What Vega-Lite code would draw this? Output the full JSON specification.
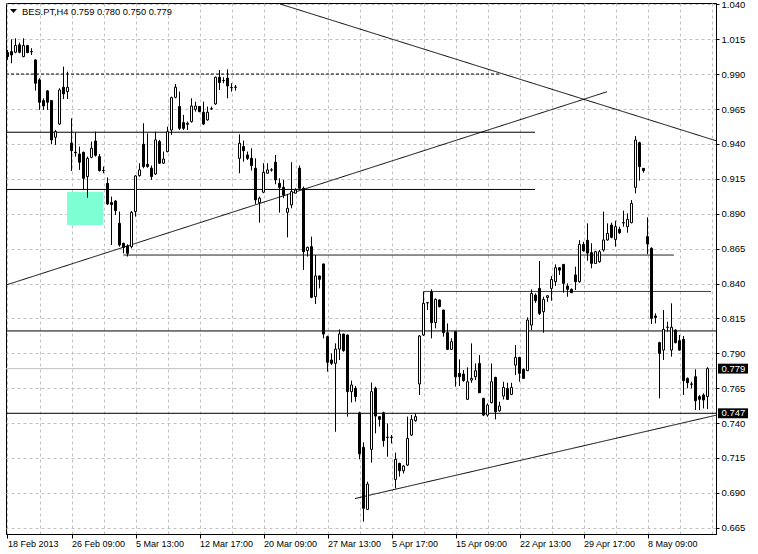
{
  "$schema": "https://vega.github.io/schema/vega-lite/v6.json",
  "width": 710,
  "height": 531,
  "autosize": {"type": "none"},
  "padding": {"left": 6, "top": 3, "right": 42, "bottom": 20},
  "background": "white",
  "config": {
    "view": {"stroke": "black", "strokeWidth": 1},
    "axis": {
      "labelFont": "Liberation Sans",
      "labelColor": "black",
      "domainColor": "black",
      "tickColor": "black",
      "grid": true,
      "gridColor": "#c0c0c0",
      "gridDash": [3, 3],
      "gridWidth": 1,
      "labelOverlap": false,
      "labelBound": false,
      "labelFlush": false
    },
    "axisX": {"labelFontSize": 9},
    "axisY": {"labelFontSize": 9.5}
  },
  "datasets": {
    "bars": [
      {"i":0,"o":1.0055,"h":1.0074,"l":1.0002,"c":1.0026},
      {"i":1,"o":1.0062,"h":1.0150,"l":0.9978,"c":1.0038},
      {"i":2,"o":1.0057,"h":1.0157,"l":1.0050,"c":1.0105},
      {"i":3,"o":1.0110,"h":1.0126,"l":1.0050,"c":1.0057},
      {"i":4,"o":1.0026,"h":1.0157,"l":1.0021,"c":1.0105},
      {"i":5,"o":1.0105,"h":1.0110,"l":1.0050,"c":1.0055},
      {"i":6,"o":1.0062,"h":1.0086,"l":1.0038,"c":1.0060},
      {"i":7,"o":1.0002,"h":1.0007,"l":0.9782,"c":0.9835},
      {"i":8,"o":0.9859,"h":0.9871,"l":0.9644,"c":0.9699},
      {"i":9,"o":0.9711,"h":0.9727,"l":0.9644,"c":0.9672},
      {"i":10,"o":0.9780,"h":0.9787,"l":0.9644,"c":0.9699},
      {"i":11,"o":0.9711,"h":0.9715,"l":0.9398,"c":0.9429},
      {"i":12,"o":0.9448,"h":0.9500,"l":0.9393,"c":0.9488},
      {"i":13,"o":0.9543,"h":0.9799,"l":0.9536,"c":0.9787},
      {"i":14,"o":0.9806,"h":0.9954,"l":0.9722,"c":0.9758},
      {"i":15,"o":0.9775,"h":0.9918,"l":0.9722,"c":0.9806},
      {"i":16,"o":0.9405,"h":0.9584,"l":0.9207,"c":0.9352},
      {"i":17,"o":0.9340,"h":0.9481,"l":0.9309,"c":0.9336},
      {"i":18,"o":0.9328,"h":0.9381,"l":0.9214,"c":0.9269},
      {"i":19,"o":0.9340,"h":0.9345,"l":0.9070,"c":0.9154},
      {"i":20,"o":0.9166,"h":0.9309,"l":0.9015,"c":0.9297},
      {"i":21,"o":0.9304,"h":0.9417,"l":0.9297,"c":0.9369},
      {"i":22,"o":0.9421,"h":0.9488,"l":0.9309,"c":0.9319},
      {"i":23,"o":0.9309,"h":0.9328,"l":0.9202,"c":0.9209},
      {"i":24,"o":0.9211,"h":0.9238,"l":0.9190,"c":0.9209},
      {"i":25,"o":0.9118,"h":0.9160,"l":0.8963,"c":0.8970},
      {"i":26,"o":0.8980,"h":0.9023,"l":0.8676,"c":0.8965},
      {"i":27,"o":0.8991,"h":0.8999,"l":0.8891,"c":0.8922},
      {"i":28,"o":0.8831,"h":0.8915,"l":0.8664,"c":0.8676},
      {"i":29,"o":0.8688,"h":0.8693,"l":0.8616,"c":0.8659},
      {"i":30,"o":0.8669,"h":0.8681,"l":0.8593,"c":0.8616},
      {"i":31,"o":0.8664,"h":0.8920,"l":0.8652,"c":0.8910},
      {"i":32,"o":0.8915,"h":0.9176,"l":0.8879,"c":0.9171},
      {"i":33,"o":0.9173,"h":0.9262,"l":0.9166,"c":0.9214},
      {"i":34,"o":0.9398,"h":0.9548,"l":0.9226,"c":0.9238},
      {"i":35,"o":0.9254,"h":0.9476,"l":0.9230,"c":0.9238},
      {"i":36,"o":0.9226,"h":0.9245,"l":0.9142,"c":0.9166},
      {"i":37,"o":0.9185,"h":0.9488,"l":0.9178,"c":0.9429},
      {"i":38,"o":0.9417,"h":0.9429,"l":0.9257,"c":0.9262},
      {"i":39,"o":0.9262,"h":0.9345,"l":0.9257,"c":0.9292},
      {"i":40,"o":0.9345,"h":0.9524,"l":0.9340,"c":0.9488},
      {"i":41,"o":0.9500,"h":0.9739,"l":0.9465,"c":0.9732},
      {"i":42,"o":0.9734,"h":0.9830,"l":0.9727,"c":0.9806},
      {"i":43,"o":0.9668,"h":0.9775,"l":0.9500,"c":0.9512},
      {"i":44,"o":0.9553,"h":0.9608,"l":0.9500,"c":0.9512},
      {"i":45,"o":0.9540,"h":0.9560,"l":0.9500,"c":0.9548},
      {"i":46,"o":0.9560,"h":0.9727,"l":0.9553,"c":0.9672},
      {"i":47,"o":0.9648,"h":0.9703,"l":0.9632,"c":0.9672},
      {"i":48,"o":0.9668,"h":0.9672,"l":0.9627,"c":0.9632},
      {"i":49,"o":0.9627,"h":0.9703,"l":0.9536,"c":0.9543},
      {"i":50,"o":0.9572,"h":0.9668,"l":0.9567,"c":0.9627},
      {"i":51,"o":0.9651,"h":0.9668,"l":0.9644,"c":0.9653},
      {"i":52,"o":0.9687,"h":0.9883,"l":0.9680,"c":0.9878},
      {"i":53,"o":0.9878,"h":0.9930,"l":0.9787,"c":0.9840},
      {"i":54,"o":0.9855,"h":0.9878,"l":0.9835,"c":0.9853},
      {"i":55,"o":0.9871,"h":0.9935,"l":0.9727,"c":0.9816},
      {"i":56,"o":0.9806,"h":0.9835,"l":0.9775,"c":0.9804},
      {"i":57,"o":0.9806,"h":0.9823,"l":0.9782,"c":0.9808},
      {"i":58,"o":0.9297,"h":0.9469,"l":0.9190,"c":0.9405},
      {"i":59,"o":0.9381,"h":0.9424,"l":0.9273,"c":0.9352},
      {"i":60,"o":0.9321,"h":0.9345,"l":0.9285,"c":0.9297},
      {"i":61,"o":0.9297,"h":0.9369,"l":0.9209,"c":0.9245},
      {"i":62,"o":0.9226,"h":0.9297,"l":0.8970,"c":0.8999},
      {"i":63,"o":0.8980,"h":0.9023,"l":0.8836,"c":0.9011},
      {"i":64,"o":0.9054,"h":0.9262,"l":0.9047,"c":0.9197},
      {"i":65,"o":0.9190,"h":0.9262,"l":0.9190,"c":0.9214},
      {"i":66,"o":0.9213,"h":0.9226,"l":0.9202,"c":0.9215},
      {"i":67,"o":0.9269,"h":0.9321,"l":0.9111,"c":0.9142},
      {"i":68,"o":0.9118,"h":0.9154,"l":0.8908,"c":0.9089},
      {"i":69,"o":0.9089,"h":0.9142,"l":0.9011,"c":0.9035},
      {"i":70,"o":0.8910,"h":0.9042,"l":0.8731,"c":0.8939},
      {"i":71,"o":0.8963,"h":0.9269,"l":0.8939,"c":0.9059},
      {"i":72,"o":0.9047,"h":0.9082,"l":0.9047,"c":0.9070},
      {"i":73,"o":0.9226,"h":0.9245,"l":0.9070,"c":0.9082},
      {"i":74,"o":0.9082,"h":0.9094,"l":0.8497,"c":0.8628},
      {"i":75,"o":0.8636,"h":0.8664,"l":0.8593,"c":0.8659},
      {"i":76,"o":0.8664,"h":0.8736,"l":0.8294,"c":0.8301},
      {"i":77,"o":0.8306,"h":0.8604,"l":0.8253,"c":0.8454},
      {"i":78,"o":0.8454,"h":0.8456,"l":0.8365,"c":0.8430},
      {"i":79,"o":0.8540,"h":0.8542,"l":0.8007,"c":0.8038},
      {"i":80,"o":0.8019,"h":0.8026,"l":0.7768,"c":0.7835},
      {"i":81,"o":0.7852,"h":0.7899,"l":0.7816,"c":0.7828},
      {"i":82,"o":0.7828,"h":0.7971,"l":0.7338,"c":0.7930},
      {"i":83,"o":0.7930,"h":0.8071,"l":0.7852,"c":0.8038},
      {"i":84,"o":0.8038,"h":0.8040,"l":0.7911,"c":0.7919},
      {"i":85,"o":0.8031,"h":0.8033,"l":0.7446,"c":0.7625},
      {"i":86,"o":0.7625,"h":0.7704,"l":0.7548,"c":0.7673},
      {"i":87,"o":0.7649,"h":0.7665,"l":0.7553,"c":0.7589},
      {"i":88,"o":0.7472,"h":0.7481,"l":0.7140,"c":0.7180},
      {"i":89,"o":0.7226,"h":0.7262,"l":0.6694,"c":0.6789},
      {"i":90,"o":0.6781,"h":0.6980,"l":0.6777,"c":0.6963},
      {"i":91,"o":0.7211,"h":0.7690,"l":0.7117,"c":0.7625},
      {"i":92,"o":0.7649,"h":0.7661,"l":0.7326,"c":0.7450},
      {"i":93,"o":0.7446,"h":0.7446,"l":0.7374,"c":0.7426},
      {"i":94,"o":0.7474,"h":0.7481,"l":0.7231,"c":0.7274},
      {"i":95,"o":0.7297,"h":0.7398,"l":0.7159,"c":0.7299},
      {"i":96,"o":0.7298,"h":0.7314,"l":0.7254,"c":0.7297},
      {"i":97,"o":0.6996,"h":0.7188,"l":0.6932,"c":0.7140},
      {"i":98,"o":0.7111,"h":0.7116,"l":0.7016,"c":0.7058},
      {"i":99,"o":0.7058,"h":0.7099,"l":0.7039,"c":0.7092},
      {"i":100,"o":0.7099,"h":0.7446,"l":0.7092,"c":0.7290},
      {"i":101,"o":0.7314,"h":0.7457,"l":0.7307,"c":0.7426},
      {"i":102,"o":0.7417,"h":0.7469,"l":0.7410,"c":0.7446},
      {"i":103,"o":0.7680,"h":0.8031,"l":0.7601,"c":0.8024},
      {"i":104,"o":0.8031,"h":0.8341,"l":0.8024,"c":0.8258},
      {"i":105,"o":0.8261,"h":0.8265,"l":0.8210,"c":0.8263},
      {"i":106,"o":0.8341,"h":0.8358,"l":0.8007,"c":0.8119},
      {"i":107,"o":0.8120,"h":0.8294,"l":0.8079,"c":0.8286},
      {"i":108,"o":0.8282,"h":0.8286,"l":0.8229,"c":0.8234},
      {"i":109,"o":0.8210,"h":0.8212,"l":0.8019,"c":0.8048},
      {"i":110,"o":0.8048,"h":0.8114,"l":0.7923,"c":0.7928},
      {"i":111,"o":0.7928,"h":0.8007,"l":0.7923,"c":0.7983},
      {"i":112,"o":0.8055,"h":0.8055,"l":0.7661,"c":0.7732},
      {"i":113,"o":0.7756,"h":0.7856,"l":0.7665,"c":0.7732},
      {"i":114,"o":0.7751,"h":0.7780,"l":0.7696,"c":0.7704},
      {"i":115,"o":0.7570,"h":0.7799,"l":0.7565,"c":0.7696},
      {"i":116,"o":0.7708,"h":0.7971,"l":0.7689,"c":0.7720},
      {"i":117,"o":0.7732,"h":0.7827,"l":0.7708,"c":0.7775},
      {"i":118,"o":0.7827,"h":0.7887,"l":0.7617,"c":0.7617},
      {"i":119,"o":0.7577,"h":0.7577,"l":0.7450,"c":0.7457},
      {"i":120,"o":0.7457,"h":0.7541,"l":0.7445,"c":0.7529},
      {"i":121,"o":0.7546,"h":0.7827,"l":0.7541,"c":0.7696},
      {"i":122,"o":0.7727,"h":0.7732,"l":0.7426,"c":0.7481},
      {"i":123,"o":0.7488,"h":0.7553,"l":0.7481,"c":0.7522},
      {"i":124,"o":0.7593,"h":0.7696,"l":0.7569,"c":0.7655},
      {"i":125,"o":0.7648,"h":0.7689,"l":0.7569,"c":0.7569},
      {"i":126,"o":0.7605,"h":0.7689,"l":0.7600,"c":0.7655},
      {"i":127,"o":0.7815,"h":0.7959,"l":0.7744,"c":0.7870},
      {"i":128,"o":0.7870,"h":0.7875,"l":0.7696,"c":0.7756},
      {"i":129,"o":0.7784,"h":0.7792,"l":0.7720,"c":0.7720},
      {"i":130,"o":0.7775,"h":0.8157,"l":0.7775,"c":0.8138},
      {"i":131,"o":0.8102,"h":0.8358,"l":0.8066,"c":0.8329},
      {"i":132,"o":0.8317,"h":0.8329,"l":0.8262,"c":0.8277},
      {"i":133,"o":0.8365,"h":0.8561,"l":0.8174,"c":0.8186},
      {"i":134,"o":0.8198,"h":0.8305,"l":0.8047,"c":0.8286},
      {"i":135,"o":0.8300,"h":0.8317,"l":0.8269,"c":0.8312},
      {"i":136,"o":0.8365,"h":0.8453,"l":0.8277,"c":0.8429},
      {"i":137,"o":0.8413,"h":0.8537,"l":0.8382,"c":0.8513},
      {"i":138,"o":0.8513,"h":0.8515,"l":0.8461,"c":0.8496},
      {"i":139,"o":0.8537,"h":0.8539,"l":0.8334,"c":0.8401},
      {"i":140,"o":0.8382,"h":0.8401,"l":0.8305,"c":0.8358},
      {"i":141,"o":0.8358,"h":0.8365,"l":0.8334,"c":0.8334},
      {"i":142,"o":0.8461,"h":0.8520,"l":0.8353,"c":0.8413},
      {"i":143,"o":0.8413,"h":0.8711,"l":0.8406,"c":0.8680},
      {"i":144,"o":0.8680,"h":0.8699,"l":0.8628,"c":0.8635},
      {"i":145,"o":0.8710,"h":0.8831,"l":0.8563,"c":0.8618},
      {"i":146,"o":0.8621,"h":0.8688,"l":0.8509,"c":0.8544},
      {"i":147,"o":0.8544,"h":0.8635,"l":0.8540,"c":0.8628},
      {"i":148,"o":0.8556,"h":0.8640,"l":0.8549,"c":0.8628},
      {"i":149,"o":0.8640,"h":0.8915,"l":0.8628,"c":0.8712},
      {"i":150,"o":0.8712,"h":0.8831,"l":0.8707,"c":0.8759},
      {"i":151,"o":0.8819,"h":0.8836,"l":0.8724,"c":0.8731},
      {"i":152,"o":0.8716,"h":0.8850,"l":0.8664,"c":0.8807},
      {"i":153,"o":0.8788,"h":0.8807,"l":0.8755,"c":0.8764},
      {"i":154,"o":0.8836,"h":0.8922,"l":0.8807,"c":0.8834},
      {"i":155,"o":0.8807,"h":0.8903,"l":0.8764,"c":0.8860},
      {"i":156,"o":0.8836,"h":0.8998,"l":0.8831,"c":0.8974},
      {"i":157,"o":0.9089,"h":0.9457,"l":0.9046,"c":0.9428},
      {"i":158,"o":0.9409,"h":0.9416,"l":0.9137,"c":0.9237},
      {"i":159,"o":0.9225,"h":0.9225,"l":0.9194,"c":0.9209},
      {"i":160,"o":0.8736,"h":0.8874,"l":0.8611,"c":0.8683},
      {"i":161,"o":0.8652,"h":0.8659,"l":0.8110,"c":0.8150},
      {"i":162,"o":0.8167,"h":0.8186,"l":0.8114,"c":0.8157},
      {"i":163,"o":0.7976,"h":0.7983,"l":0.7577,"c":0.7899},
      {"i":164,"o":0.7923,"h":0.8210,"l":0.7852,"c":0.8071},
      {"i":165,"o":0.8086,"h":0.8126,"l":0.8055,"c":0.8088},
      {"i":166,"o":0.7923,"h":0.8258,"l":0.7876,"c":0.8086},
      {"i":167,"o":0.8067,"h":0.8071,"l":0.7971,"c":0.7976},
      {"i":168,"o":0.7990,"h":0.8031,"l":0.7919,"c":0.7923},
      {"i":169,"o":0.8000,"h":0.8024,"l":0.7601,"c":0.7704},
      {"i":170,"o":0.7720,"h":0.7727,"l":0.7649,"c":0.7689},
      {"i":171,"o":0.7680,"h":0.7696,"l":0.7649,"c":0.7678},
      {"i":172,"o":0.7732,"h":0.7785,"l":0.7493,"c":0.7560},
      {"i":173,"o":0.7589,"h":0.7601,"l":0.7493,"c":0.7570},
      {"i":174,"o":0.7601,"h":0.7613,"l":0.7505,"c":0.7565},
      {"i":175,"o":0.759,"h":0.780,"l":0.750,"c":0.779}
    ],
    "levels": [
      {"x1":-0.375,"x2":123.25,"p1":0.9901,"p2":0.9901,"kind":"dash"},
      {"x1":-0.375,"x2":131.875,"p1":0.9484,"p2":0.9484,"kind":"solid"},
      {"x1":-0.375,"x2":131.875,"p1":0.9074,"p2":0.9074,"kind":"solid"},
      {"x1":29,"x2":166.6,"p1":0.8604,"p2":0.8604,"kind":"solid"},
      {"x1":104,"x2":175.875,"p1":0.8343,"p2":0.8343,"kind":"solid"},
      {"x1":-0.375,"x2":177.125,"p1":0.806,"p2":0.806,"kind":"solid"},
      {"x1":-0.375,"x2":177.125,"p1":0.779,"p2":0.779,"kind":"gray"},
      {"x1":-0.375,"x2":177.125,"p1":0.747,"p2":0.747,"kind":"solid"},
      {"x1":68.125,"x2":177.125,"p1":1.0403,"p2":0.9423,"kind":"solid"},
      {"x1":-0.375,"x2":149.875,"p1":0.8389,"p2":0.9774,"kind":"solid"},
      {"x1":86.875,"x2":177.125,"p1":0.6859,"p2":0.7456,"kind":"solid"}
    ],
    "zones": [
      {"x1":14.875,"x2":23.875,"p1":0.9058,"p2":0.8819}
    ],
    "tags": [
      {"p":0.779,"t":"0.779"},
      {"p":0.747,"t":"0.747"}
    ],
    "header": [
      {"t":"BES.PT,H4  0.759 0.780 0.750 0.779"}
    ]
  },
  "layer": [
    {
      "data": {"name": "zones"},
      "mark": {"type": "rect", "color": "#7FFFD4", "clip": true},
      "encoding": {
        "x": {"field": "x1", "type": "quantitative", "scale": {"domain": [-0.375, 177.125], "nice": false, "zero": false, "padding": 0},
          "axis": {"title": null, "values": [0,8,16,24,32,40,48,56,64,72,80,88,96,104,112,120,128,136,144,152,160,168,176], "labelExpr": "(datum.value % 16 == 0 && datum.value < 176) ? ['18 Feb 2013','26 Feb 09:00','5 Mar 13:00','12 Mar 17:00','20 Mar 09:00','27 Mar 13:00','5 Apr 17:00','15 Apr 09:00','22 Apr 13:00','29 Apr 17:00','8 May 09:00'][datum.value / 16] : ''", "labelAlign": "left", "labelBaseline": "top", "labelPadding": 1, "labelOverlap": false, "tickSize": 4, "tickOpacity": {"condition": {"test": "datum.value % 16 == 0 && datum.value < 176", "value": 1}, "value": 0}, "grid": true}},
        "x2": {"field": "x2"},
        "y": {"field": "p1", "type": "quantitative", "scale": {"domain": [0.6605, 1.041], "nice": false, "zero": false, "padding": 0},
          "axis": {"title": null, "orient": "right", "values": [0.665,0.69,0.715,0.74,0.765,0.79,0.815,0.84,0.865,0.89,0.915,0.94,0.965,0.99,1.015,1.04], "format": ".3f", "labelAlign": "left", "labelBaseline": "middle", "labelPadding": 2, "labelOverlap": false, "tickSize": 3, "grid": true}},
        "y2": {"field": "p2"}
      }
    },
    {
      "data": {"name": "levels"},
      "mark": {"type": "rule", "clip": true, "strokeWidth": 1},
      "encoding": {
        "x": {"field": "x1", "type": "quantitative", "scale": {"domain": [-0.375, 177.125], "nice": false, "zero": false, "padding": 0},
          "axis": {"title": null, "values": [0,8,16,24,32,40,48,56,64,72,80,88,96,104,112,120,128,136,144,152,160,168,176], "labelExpr": "(datum.value % 16 == 0 && datum.value < 176) ? ['18 Feb 2013','26 Feb 09:00','5 Mar 13:00','12 Mar 17:00','20 Mar 09:00','27 Mar 13:00','5 Apr 17:00','15 Apr 09:00','22 Apr 13:00','29 Apr 17:00','8 May 09:00'][datum.value / 16] : ''", "labelAlign": "left", "labelBaseline": "top", "labelPadding": 1, "labelOverlap": false, "tickSize": 4, "tickOpacity": {"condition": {"test": "datum.value % 16 == 0 && datum.value < 176", "value": 1}, "value": 0}, "grid": true}},
        "x2": {"field": "x2"},
        "y": {"field": "p1", "type": "quantitative", "scale": {"domain": [0.6605, 1.041], "nice": false, "zero": false, "padding": 0},
          "axis": {"title": null, "orient": "right", "values": [0.665,0.69,0.715,0.74,0.765,0.79,0.815,0.84,0.865,0.89,0.915,0.94,0.965,0.99,1.015,1.04], "format": ".3f", "labelAlign": "left", "labelBaseline": "middle", "labelPadding": 2, "labelOverlap": false, "tickSize": 3, "grid": true}},
        "y2": {"field": "p2"},
        "color": {"field": "kind", "type": "nominal", "scale": {"domain": ["solid", "dash", "gray"], "range": ["#000000", "#000000", "#c0c0c0"]}, "legend": null},
        "strokeDash": {"field": "kind", "type": "nominal", "scale": {"domain": ["solid", "dash", "gray"], "range": [[1, 0], [3, 2], [1, 0]]}, "legend": null}
      }
    },
    {
      "data": {"name": "bars"},
      "mark": {"type": "rule", "clip": true, "color": "black", "strokeWidth": 1},
      "encoding": {
        "x": {"field": "i", "type": "quantitative", "scale": {"domain": [-0.375, 177.125], "nice": false, "zero": false, "padding": 0},
          "axis": {"title": null, "values": [0,8,16,24,32,40,48,56,64,72,80,88,96,104,112,120,128,136,144,152,160,168,176], "labelExpr": "(datum.value % 16 == 0 && datum.value < 176) ? ['18 Feb 2013','26 Feb 09:00','5 Mar 13:00','12 Mar 17:00','20 Mar 09:00','27 Mar 13:00','5 Apr 17:00','15 Apr 09:00','22 Apr 13:00','29 Apr 17:00','8 May 09:00'][datum.value / 16] : ''", "labelAlign": "left", "labelBaseline": "top", "labelPadding": 1, "labelOverlap": false, "tickSize": 4, "tickOpacity": {"condition": {"test": "datum.value % 16 == 0 && datum.value < 176", "value": 1}, "value": 0}, "grid": true}},
        "y": {"field": "l", "type": "quantitative", "scale": {"domain": [0.6605, 1.041], "nice": false, "zero": false, "padding": 0},
          "axis": {"title": null, "orient": "right", "values": [0.665,0.69,0.715,0.74,0.765,0.79,0.815,0.84,0.865,0.89,0.915,0.94,0.965,0.99,1.015,1.04], "format": ".3f", "labelAlign": "left", "labelBaseline": "middle", "labelPadding": 2, "labelOverlap": false, "tickSize": 3, "grid": true}},
        "y2": {"field": "h"}
      }
    },
    {
      "data": {"name": "bars"},
      "mark": {"type": "bar", "clip": true, "size": 2, "stroke": "black", "strokeWidth": 1},
      "encoding": {
        "x": {"field": "i", "type": "quantitative", "scale": {"domain": [-0.375, 177.125], "nice": false, "zero": false, "padding": 0},
          "axis": {"title": null, "values": [0,8,16,24,32,40,48,56,64,72,80,88,96,104,112,120,128,136,144,152,160,168,176], "labelExpr": "(datum.value % 16 == 0 && datum.value < 176) ? ['18 Feb 2013','26 Feb 09:00','5 Mar 13:00','12 Mar 17:00','20 Mar 09:00','27 Mar 13:00','5 Apr 17:00','15 Apr 09:00','22 Apr 13:00','29 Apr 17:00','8 May 09:00'][datum.value / 16] : ''", "labelAlign": "left", "labelBaseline": "top", "labelPadding": 1, "labelOverlap": false, "tickSize": 4, "tickOpacity": {"condition": {"test": "datum.value % 16 == 0 && datum.value < 176", "value": 1}, "value": 0}, "grid": true}},
        "y": {"field": "o", "type": "quantitative", "scale": {"domain": [0.6605, 1.041], "nice": false, "zero": false, "padding": 0},
          "axis": {"title": null, "orient": "right", "values": [0.665,0.69,0.715,0.74,0.765,0.79,0.815,0.84,0.865,0.89,0.915,0.94,0.965,0.99,1.015,1.04], "format": ".3f", "labelAlign": "left", "labelBaseline": "middle", "labelPadding": 2, "labelOverlap": false, "tickSize": 3, "grid": true}},
        "y2": {"field": "c"},
        "fill": {"condition": {"test": "datum.c > datum.o", "value": "white"}, "value": "black"}
      }
    },
    {
      "data": {"name": "tags"},
      "mark": {"type": "point", "shape": "M-1,-0.33H1V0.33H-1Z", "size": 900, "filled": true, "color": "black", "opacity": 1},
      "encoding": {
        "x": {"datum": 181.375, "type": "quantitative", "scale": {"domain": [-0.375, 177.125], "nice": false, "zero": false, "padding": 0},
          "axis": {"title": null, "values": [0,8,16,24,32,40,48,56,64,72,80,88,96,104,112,120,128,136,144,152,160,168,176], "labelExpr": "(datum.value % 16 == 0 && datum.value < 176) ? ['18 Feb 2013','26 Feb 09:00','5 Mar 13:00','12 Mar 17:00','20 Mar 09:00','27 Mar 13:00','5 Apr 17:00','15 Apr 09:00','22 Apr 13:00','29 Apr 17:00','8 May 09:00'][datum.value / 16] : ''", "labelAlign": "left", "labelBaseline": "top", "labelPadding": 1, "labelOverlap": false, "tickSize": 4, "tickOpacity": {"condition": {"test": "datum.value % 16 == 0 && datum.value < 176", "value": 1}, "value": 0}, "grid": true}},
        "y": {"field": "p", "type": "quantitative", "scale": {"domain": [0.6605, 1.041], "nice": false, "zero": false, "padding": 0},
          "axis": {"title": null, "orient": "right", "values": [0.665,0.69,0.715,0.74,0.765,0.79,0.815,0.84,0.865,0.89,0.915,0.94,0.965,0.99,1.015,1.04], "format": ".3f", "labelAlign": "left", "labelBaseline": "middle", "labelPadding": 2, "labelOverlap": false, "tickSize": 3, "grid": true}}
      }
    },
    {
      "data": {"name": "tags"},
      "mark": {"type": "text", "align": "left", "baseline": "middle", "color": "white", "font": "Liberation Sans", "fontSize": 9.5},
      "encoding": {
        "x": {"datum": 178.5, "type": "quantitative", "scale": {"domain": [-0.375, 177.125], "nice": false, "zero": false, "padding": 0},
          "axis": {"title": null, "values": [0,8,16,24,32,40,48,56,64,72,80,88,96,104,112,120,128,136,144,152,160,168,176], "labelExpr": "(datum.value % 16 == 0 && datum.value < 176) ? ['18 Feb 2013','26 Feb 09:00','5 Mar 13:00','12 Mar 17:00','20 Mar 09:00','27 Mar 13:00','5 Apr 17:00','15 Apr 09:00','22 Apr 13:00','29 Apr 17:00','8 May 09:00'][datum.value / 16] : ''", "labelAlign": "left", "labelBaseline": "top", "labelPadding": 1, "labelOverlap": false, "tickSize": 4, "tickOpacity": {"condition": {"test": "datum.value % 16 == 0 && datum.value < 176", "value": 1}, "value": 0}, "grid": true}},
        "y": {"field": "p", "type": "quantitative", "scale": {"domain": [0.6605, 1.041], "nice": false, "zero": false, "padding": 0},
          "axis": {"title": null, "orient": "right", "values": [0.665,0.69,0.715,0.74,0.765,0.79,0.815,0.84,0.865,0.89,0.915,0.94,0.965,0.99,1.015,1.04], "format": ".3f", "labelAlign": "left", "labelBaseline": "middle", "labelPadding": 2, "labelOverlap": false, "tickSize": 3, "grid": true}},
        "text": {"field": "t"}
      }
    },
    {
      "data": {"name": "header"},
      "mark": {"type": "point", "shape": "M-1,-0.55L1,-0.55L0,0.55Z", "size": 49, "filled": true, "color": "black", "opacity": 1},
      "encoding": {
        "x": {"datum": 1.5, "type": "quantitative", "scale": {"domain": [-0.375, 177.125], "nice": false, "zero": false, "padding": 0},
          "axis": {"title": null, "values": [0,8,16,24,32,40,48,56,64,72,80,88,96,104,112,120,128,136,144,152,160,168,176], "labelExpr": "(datum.value % 16 == 0 && datum.value < 176) ? ['18 Feb 2013','26 Feb 09:00','5 Mar 13:00','12 Mar 17:00','20 Mar 09:00','27 Mar 13:00','5 Apr 17:00','15 Apr 09:00','22 Apr 13:00','29 Apr 17:00','8 May 09:00'][datum.value / 16] : ''", "labelAlign": "left", "labelBaseline": "top", "labelPadding": 1, "labelOverlap": false, "tickSize": 4, "tickOpacity": {"condition": {"test": "datum.value % 16 == 0 && datum.value < 176", "value": 1}, "value": 0}, "grid": true}},
        "y": {"datum": 1.0353, "type": "quantitative", "scale": {"domain": [0.6605, 1.041], "nice": false, "zero": false, "padding": 0},
          "axis": {"title": null, "orient": "right", "values": [0.665,0.69,0.715,0.74,0.765,0.79,0.815,0.84,0.865,0.89,0.915,0.94,0.965,0.99,1.015,1.04], "format": ".3f", "labelAlign": "left", "labelBaseline": "middle", "labelPadding": 2, "labelOverlap": false, "tickSize": 3, "grid": true}}
      }
    },
    {
      "data": {"name": "header"},
      "mark": {"type": "text", "align": "left", "baseline": "middle", "color": "black", "font": "Liberation Sans", "fontSize": 9.3},
      "encoding": {
        "x": {"datum": 3.625, "type": "quantitative", "scale": {"domain": [-0.375, 177.125], "nice": false, "zero": false, "padding": 0},
          "axis": {"title": null, "values": [0,8,16,24,32,40,48,56,64,72,80,88,96,104,112,120,128,136,144,152,160,168,176], "labelExpr": "(datum.value % 16 == 0 && datum.value < 176) ? ['18 Feb 2013','26 Feb 09:00','5 Mar 13:00','12 Mar 17:00','20 Mar 09:00','27 Mar 13:00','5 Apr 17:00','15 Apr 09:00','22 Apr 13:00','29 Apr 17:00','8 May 09:00'][datum.value / 16] : ''", "labelAlign": "left", "labelBaseline": "top", "labelPadding": 1, "labelOverlap": false, "tickSize": 4, "tickOpacity": {"condition": {"test": "datum.value % 16 == 0 && datum.value < 176", "value": 1}, "value": 0}, "grid": true}},
        "y": {"datum": 1.0346, "type": "quantitative", "scale": {"domain": [0.6605, 1.041], "nice": false, "zero": false, "padding": 0},
          "axis": {"title": null, "orient": "right", "values": [0.665,0.69,0.715,0.74,0.765,0.79,0.815,0.84,0.865,0.89,0.915,0.94,0.965,0.99,1.015,1.04], "format": ".3f", "labelAlign": "left", "labelBaseline": "middle", "labelPadding": 2, "labelOverlap": false, "tickSize": 3, "grid": true}},
        "text": {"field": "t"}
      }
    }
  ]
}
